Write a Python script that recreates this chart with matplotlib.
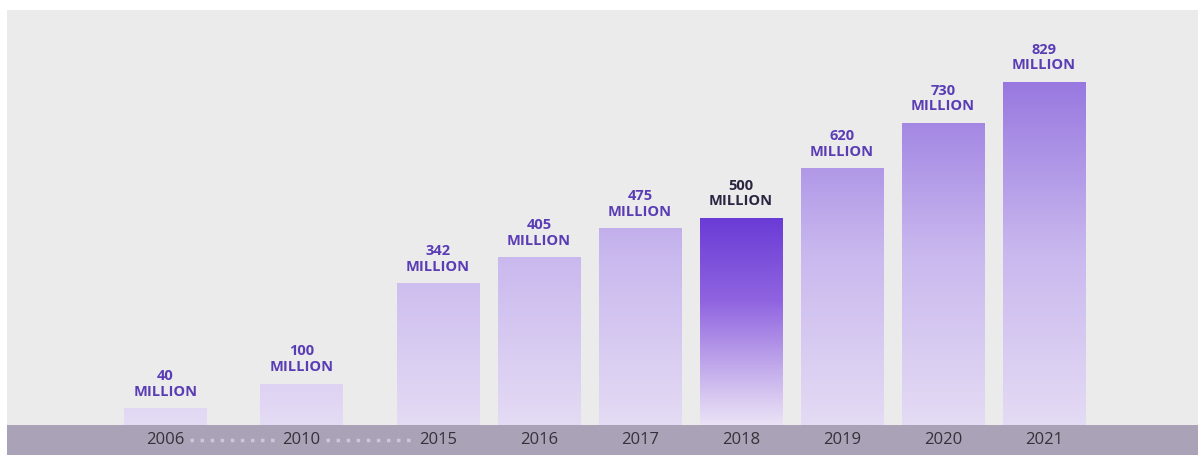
"""Bar chart of user counts by year, with gradient-filled bars and a year band."""

import numpy as np
import matplotlib.pyplot as plt
from matplotlib.colors import LinearSegmentedColormap
from matplotlib.patches import Rectangle

years = ["2006", "2010", "2015", "2016", "2017", "2018", "2019", "2020", "2021"]
users_million = [40, 100, 342, 405, 475, 500, 620, 730, 829]
highlight_year = "2018"

# Bar centres: the early years are spaced wider apart, joined by dotted leaders
positions = [0, 1.35, 2.7, 3.7, 4.7, 5.7, 6.7, 7.7, 8.7]
BAR_WIDTH = 0.82

BG = "#ebebeb"
BAND = "#aaa3b8"
LABEL_PURPLE = "#5a3db5"
LABEL_DARK = "#2c2541"
YEAR_COLOR = "#363039"

plt.rcParams["font.family"] = ["Open Sans", "DejaVu Sans"]

# One shared gradient for ordinary bars (darker the taller), own gradient for the highlight
base_cmap = LinearSegmentedColormap.from_list(
    "bars", ["#e4dbf4", "#c9b8ee", "#9878e0"])
hi_cmap = LinearSegmentedColormap.from_list(
    "hi", [(0.0, "#ebe3f6"), (0.25, "#c6b0ec"), (0.6, "#9064e0"), (1.0, "#6a3cd6")])

fig = plt.figure(figsize=(11.98, 4.55), dpi=100)
fig.patch.set_facecolor("white")
ax = fig.add_axes([7 / 1198, 0, 1191 / 1198, 445 / 455])
ax.set_facecolor(BG)

ymax = max(users_million)
band_depth = 72.5
ax.axhspan(-band_depth, 0, color=BAND, zorder=1, lw=0)

for year, x, v in zip(years, positions, users_million):
    left = x - BAR_WIDTH / 2
    rect = Rectangle((left, 0), BAR_WIDTH, v, facecolor="none", edgecolor="none")
    ax.add_patch(rect)
    if year == highlight_year:
        grad = np.linspace(0, 1, 256).reshape(-1, 1)
        cmap = hi_cmap
    else:
        grad = np.linspace(0, v / ymax, 256).reshape(-1, 1)
        cmap = base_cmap
    im = ax.imshow(grad, cmap=cmap, vmin=0, vmax=1, origin="lower",
                   extent=[left, left + BAR_WIDTH, 0, v], aspect="auto",
                   interpolation="bicubic", zorder=2)
    im.set_clip_path(rect)

    color = LABEL_DARK if year == highlight_year else LABEL_PURPLE
    ax.annotate(f"{v}\nMILLION", (x, v), xytext=(0, 7), textcoords="offset points",
                ha="center", va="bottom", fontsize=10.5, fontweight="bold",
                color=color, linespacing=1.15, zorder=3)

    ax.text(x, -band_depth / 2, year, ha="center", va="center", fontsize=12,
            fontweight="medium", color=YEAR_COLOR, zorder=3)

# Dotted leaders between the widely spaced early years
for i, gap in enumerate([0.24, 0.27]):
    ax.plot([positions[i] + 0.24, positions[i + 1] - gap], [-band_depth / 2] * 2,
            ls=(0, (1, 1.9)), lw=2.5, color="#cdc7d7", solid_capstyle="butt",
            zorder=2)

ax.set_xlim(-1.567, 10.225)
ax.set_ylim(-band_depth, 1003)
ax.set_xticks([])
ax.set_yticks([])
for spine in ax.spines.values():
    spine.set_visible(False)

fig.savefig("out.png", dpi=100, facecolor=fig.get_facecolor())
